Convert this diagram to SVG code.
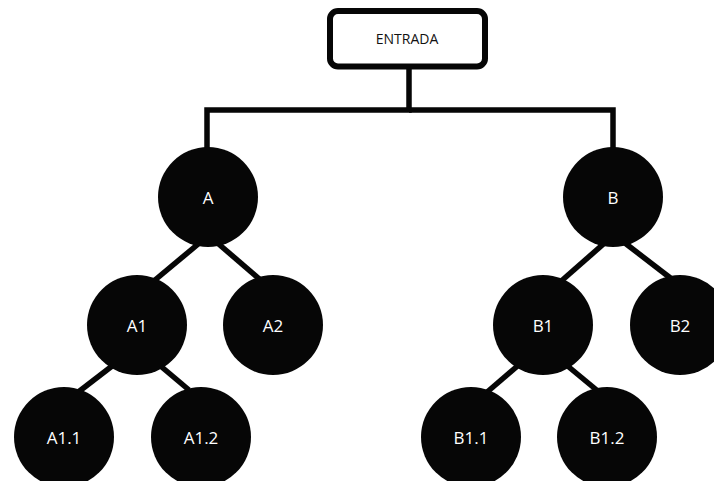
<svg xmlns="http://www.w3.org/2000/svg" width="714" height="481" viewBox="0 0 714 481">
<style>
.n circle{fill:#060606}
.n text{fill:#fff;font-family:"Open Sans","Noto Sans",sans-serif;font-size:17px;text-anchor:middle;dominant-baseline:central}
.c{stroke:#060606;stroke-width:5.5;fill:none}
</style>
<rect width="714" height="481" fill="#fff"/>
<g id="connectors" class="c">
<polyline points="409,68 409,110 207,110 207,160"/>
<polyline points="409,110 613,110 613,160"/>
<line x1="203" y1="240" x2="149" y2="285"/>
<line x1="214" y1="240" x2="264" y2="283"/>
<line x1="116" y1="363" x2="77" y2="393"/>
<line x1="157" y1="363" x2="189" y2="390"/>
<line x1="608" y1="240" x2="559" y2="283"/>
<line x1="621" y1="240" x2="673" y2="280"/>
<line x1="521" y1="363" x2="486" y2="393"/>
<line x1="564" y1="363" x2="599" y2="392"/>
</g>
<g id="entrada">
<rect x="330" y="11" width="155" height="55.5" rx="8" fill="#fff" stroke="#060606" stroke-width="6"/>
<text x="407" y="38" font-family="'Open Sans','Noto Sans',sans-serif" font-size="14" text-anchor="middle" dominant-baseline="central" fill="#111">ENTRADA</text>
</g>
<g id="A" class="n"><circle cx="208" cy="197" r="50"/><text x="208" y="197">A</text></g>
<g id="B" class="n"><circle cx="613" cy="197" r="50"/><text x="613" y="197">B</text></g>
<g id="A1" class="n"><circle cx="137" cy="325" r="50"/><text x="137" y="325">A1</text></g>
<g id="A2" class="n"><circle cx="273" cy="325" r="50"/><text x="273" y="325">A2</text></g>
<g id="A1.1" class="n"><circle cx="64" cy="437" r="50"/><text x="64" y="437">A1.1</text></g>
<g id="A1.2" class="n"><circle cx="201" cy="437" r="50"/><text x="201" y="437">A1.2</text></g>
<g id="B1" class="n"><circle cx="543" cy="325" r="50"/><text x="543" y="325">B1</text></g>
<g id="B2" class="n"><circle cx="680" cy="325" r="50"/><text x="680" y="325">B2</text></g>
<g id="B1.1" class="n"><circle cx="471" cy="437" r="50"/><text x="471" y="437">B1.1</text></g>
<g id="B1.2" class="n"><circle cx="607" cy="437" r="50"/><text x="607" y="437">B1.2</text></g>
</svg>
